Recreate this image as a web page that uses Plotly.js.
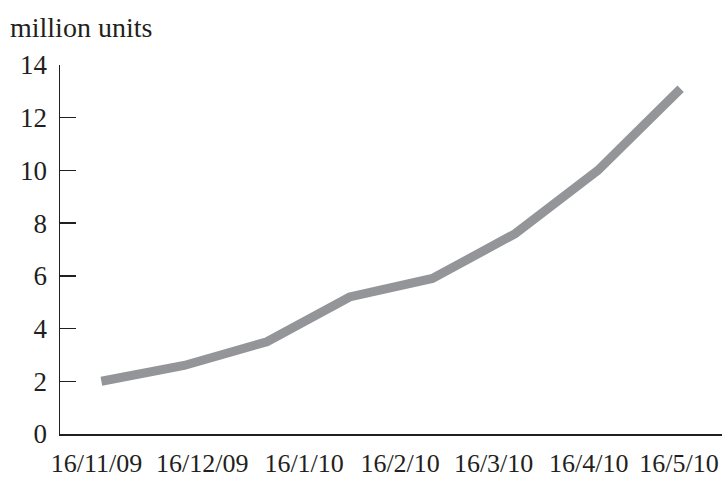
<!DOCTYPE html>
<html>
<head>
<meta charset="utf-8">
<script src="https://cdn.plot.ly/plotly-3.0.1.min.js"></script>
<style>html,body{margin:0;padding:0;background:#fff;}#chart{width:722px;height:478px;}</style>
</head>
<body>
<div id="chart"></div>
<script>
// Data
var pointIndex = [0, 1, 2, 3, 4, 5, 6, 7];
var units = [2.0, 2.6, 3.5, 5.2, 5.9, 7.6, 10.0, 13.1];
var tickPositions = [-0.06, 1.22, 2.45, 3.61, 4.74, 5.89, 6.98];
var tickLabels = ["16/11/09", "16/12/09", "16/1/10", "16/2/10", "16/3/10", "16/4/10", "16/5/10"];
var yTicks = [0, 2, 4, 6, 8, 10, 12, 14];

var font = {family: "Liberation Serif", size: 26, color: "#231f20"};
var yFont = {family: "Liberation Serif", size: 27, color: "#231f20"};
var titleFont = {family: "Liberation Serif", size: 28, color: "#231f20"};

var trace = {
  x: pointIndex,
  y: units,
  type: "scatter",
  mode: "lines",
  line: {color: "#939598", width: 9},
  hoverinfo: "skip"
};

var layout = {
  width: 722,
  height: 478,
  margin: {l: 60, r: 0, t: 65, b: 44, pad: 0},
  paper_bgcolor: "#ffffff",
  plot_bgcolor: "#ffffff",
  showlegend: false,
  font: font,
  xaxis: {
    range: [-0.5, 7.5],
    tickmode: "array",
    tickvals: tickPositions,
    ticktext: tickLabels,
    ticks: "",
    showgrid: false,
    zeroline: false,
    showline: true,
    linecolor: "#231f20",
    linewidth: 1.5,
    tickfont: font,
    ticklabelstandoff: 5,
    ticklabeloverflow: "allow",
    automargin: false
  },
  yaxis: {
    range: [0, 14],
    tickmode: "array",
    tickvals: yTicks,
    ticks: "inside",
    ticklen: 16,
    tickwidth: 1.5,
    tickcolor: "#231f20",
    showgrid: false,
    zeroline: false,
    showline: true,
    linecolor: "#231f20",
    linewidth: 1.5,
    tickfont: yFont,
    ticklabelstandoff: 6,
    automargin: false
  },
  annotations: [{
    text: "million units",
    xref: "paper", yref: "paper",
    x: -0.0785, y: 1.0,
    xanchor: "left", yanchor: "bottom",
    yshift: 20,
    showarrow: false,
    font: titleFont
  }]
};

Plotly.newPlot("chart", [trace], layout, {staticPlot: true, displayModeBar: false});
</script>
</body>
</html>
